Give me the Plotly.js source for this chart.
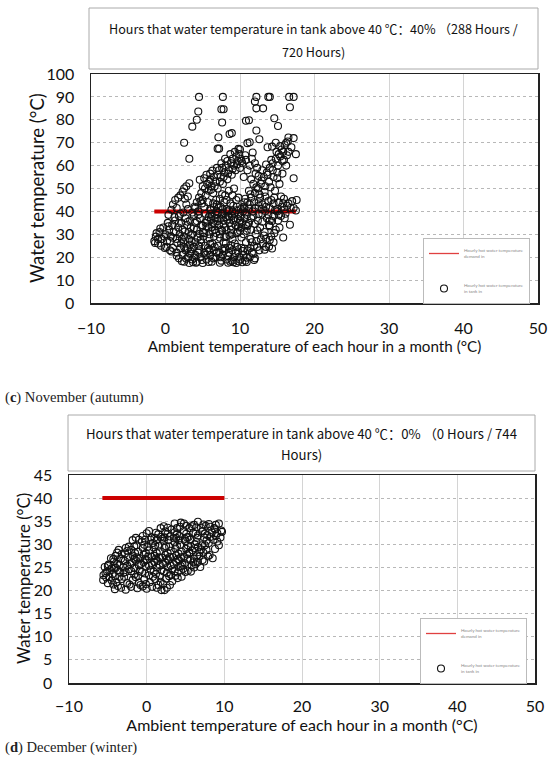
<!DOCTYPE html>
<html>
<head>
<meta charset="utf-8">
<script src="https://cdn.plot.ly/plotly-3.0.1.min.js"></script>
<style>html,body{margin:0;padding:0;background:#fff;}#chart{width:550px;height:760px;}</style>
</head>
<body>
<div id="chart"></div>
<script>
// ---------- November (autumn) ----------
const novDemandX = [-1.5, 17.5];
const novDemandY = [40, 40];
const novTankX = [
4.5,7.7,12.2,13.8,14.0,16.6,17.2,12.0,12.2,13.1,16.7,7.5,7.8,4.4,4.2,3.6,7.6,10.8,11.2,14.6,15.1,12.2,7.1,8.6,8.9,12.6,16.5,17.2,2.5,11.0,11.3,7.0,7.2,9.8,13.7,14.3,16.2,16.4,3.2,17.5,11.7,15.4,15.8,17.2,17.6,17.0,17.5,16.7,15.8,13.9,13.3,
3.2,2.5,2.3,2.0,4.6,1.3,0.8,0.4,2.8,1.7,2.6,3.0,1.0,
4.2,4.5,4.8,5.0,5.3,5.6,5.8,6.0,6.2,6.5,6.7,7.0,7.2,7.4,7.6,7.9,8.1,8.3,8.5,8.8,9.0,9.2,9.5,9.7,9.9,10.1,10.3,6.4,7.0,7.7,8.3,8.9,9.4,10.0,5.5,6.0,6.8,8.0,9.2,10.5,11.0,11.3,10.8,11.6,12.0,12.3,
10.5,11.0,11.5,12.0,12.4,12.8,13.2,13.6,14.0,14.4,14.8,15.2,15.6,16.0,13.0,13.5,14.2,14.9,12.5,11.8,11.2,13.9,14.5,15.0,12.7,13.3,14.7,15.3,11.5,12.1,15.7,16.3,
12.5,13.0,13.8,14.5,15.2,15.8,16.3,14.0,15.0,16.0,13.5,12.0,11.3,14.6,15.5,16.8,
-1.5,-1.3,-1.0,-0.8,-0.5,-0.3,0.0,0.2,0.3,0.5,0.7,0.9,1.1,1.3,1.5,1.7,1.9,2.1,2.3,2.5,2.7,2.9,3.1,-1.2,0.1,0.6,1.0,-0.6,1.8,2.4,3.3,
3.4,3.6,3.8,4.0,4.2,4.4,4.6,4.8,5.0,5.2,5.4,5.6,5.8,6.0,3.5,4.3,5.1,5.9,3.9,4.9,5.7,
6.2,6.4,6.6,6.8,7.0,7.2,7.4,7.6,7.8,8.0,8.2,8.4,8.6,8.8,9.0,9.2,9.4,9.6,9.8,10.0,10.2,10.4,10.6,10.8,6.5,7.3,8.1,8.9,9.7,10.5,6.9,7.9,8.7,9.5,6.1,7.1,8.3,9.1,10.1,7.5,8.5,9.9,6.7,10.9,
11.2,11.5,11.8,12.1,12.4,12.7,13.0,13.3,13.6,13.9,14.2,14.5,14.8,15.1,11.4,12.2,13.1,14.0,11.7,12.9,
1.5,1.8,2.0,2.3,2.5,2.7,3.0,3.2,3.4,3.6,3.8,4.0,4.2,4.5,4.7,5.0,5.2,5.5,5.7,6.0,6.2,6.5,6.7,7.0,7.2,7.5,7.7,8.0,8.2,8.5,8.7,9.0,9.2,9.5,9.7,10.0,10.2,10.5,10.7,11.0,11.3,11.6,12.0,12.3,2.1,3.3,4.8,6.3,7.8,9.3,10.8,5.3,8.8,3.7,9.8,10.3,8.4,11.8,
14.0,14.5,15.0,15.5,16.0,13.5,12.6,11.9,
5.2,5.5,5.8,6.1,6.3,6.6,6.9,7.1,7.3,7.6,7.8,8.1,8.3,8.6,8.8,9.1,9.3,9.6,9.8,10.1,10.3,10.6,10.9,5.4,6.0,6.5,7.0,7.7,8.2,8.9,9.5,10.0,10.7,6.2,7.4,8.6,9.7,5.9,6.8,7.9,9.0,10.2,11.0,11.2,6.4,7.3,8.2,9.0,9.8,10.6,8.5,7.6,
1.0,1.4,1.8,2.2,2.6,3.0,3.4,3.8,4.2,4.6,5.0,1.6,2.4,3.2,4.0,4.7,0.6,-0.2,-1.0,-1.4,-0.7,0.4,1.2,2.0,3.6,4.4,3.0,2.8,1.5,
-0.1,0.8,1.5,2.2,2.8,3.3,3.9,4.4,4.9,5.4,5.9,6.4,6.9,7.4,7.9,8.4,8.9,9.4,9.9,10.4,10.9,11.4,11.9,2.5,3.5,4.5,5.6,6.6,7.6,8.6,9.6,10.6,4.1,5.8,7.3,9.1,10.9,6.0,8.1,3.0,
11.5,12.0,12.5,13.0,13.4,13.8,14.3,14.7,15.2,15.6,16.1,16.5,17.2,12.3,13.2,14.0,14.6,15.3,12.8,11.6,13.5,14.3,12.5,15.9,14.2,13.4,
4.0,4.7,5.4,6.1,6.6,7.3,7.8,8.4,9.0,9.6,10.2,10.7,5.0,5.9,6.9,7.5,8.0,8.7,9.3,10.0,5.2,6.3,
10.7,11.4,12.2,12.9,13.7,14.4,15.1,15.9,16.5,11.9,12.6,13.4,14.1,15.0,15.7,16.2,16.9,14.8,15.4
];
const novTankY = [
90,90,90,90,90,90,90,88,85,85,85.5,84.6,84.6,83.6,80,77,78.8,79.6,79.8,80.7,77.3,75.3,72.4,73.8,74.2,71.5,72.3,72,70,69.8,70.2,67.4,67.4,67.3,68,68.3,70,70.5,63,65,65.7,64,66,54.5,45,44.5,40.4,34.2,28.6,24.7,23.3,
52.3,50,48.7,47,53.8,45,40.7,38.5,51,46,45.5,46.5,43,
44,46,48,45,50,52,49,54,51,55,53,56,58,55,59,57,60,62,58,61,63,60,64,62,65,63,61,48,50,52,54,56,58,59,56,56.5,45,47,50,55,58,60,62.5,63,61,59,
42,44,46,48,50,52,55,57,59,61,63,65,67,69,58,60.5,62.5,66,55.5,52,49,53,55,57,46,48.5,49,52,54,56.5,62,64.5,
44,43,44.5,43.5,44,43.5,42.5,41.5,41,40.8,42,41.5,43,46,46.5,41.5,
27,29,26,31,28,33,30,27,35,32,29,34,31,36,28,33,30,35,32,29,37,34,31,30.5,24.5,23,24,25,38,39.5,36,
33,30,38,35,32,40,37,34,31,42,39,36,33,41,27,28.5,29,30,42,43.5,44,
38,35,32,40,37,34,42,39,36,33,41,38,35,32,40,37,34,42,39,36,33,40,37,34,29,30,29,30,31,30,43,44,43.5,45,36.5,39.5,36.5,42.5,41,32,40.5,35,37,38.5,
35,32,38,30,36,33,39,31,37,34,29,38,32,36,28,27,26,33.5,40,41,
22,19.5,24,21,18,23,20,17.5,22.5,19,24.5,21,18,23,20,17.5,22,19,24,21,18,23,20,25,22,18.5,21,24,19,22,18,23,20,17.5,22.5,19,24,21,18.5,23,20,22,19.5,24.5,26,25.5,26.5,26,26.5,26,26.5,25,25.2,17.8,18.2,17.8,17.6,21.5,
36,26.5,40,38,37,28,23,25,
30.5,33.5,37.5,40.5,31.5,34.5,38.5,41.5,28.5,31.5,34.5,37.5,40,29.5,33.5,36,39,30.5,33,38,35,41.5,31.5,35,38.8,41.8,35.8,40.8,31.8,38,40.5,31.5,39.5,33.2,36.8,37.8,36.8,28.2,30.6,28.8,27.8,28.6,33.6,41.2,43.5,45.5,45,47,46,44,49,47.5,
28.5,31.2,34.8,28.0,31.2,35.5,29.5,32.5,35.8,30.2,33.8,26.2,26.8,27.8,26.5,27.5,27.0,29.0,28.0,26.2,32.5,33.5,37.5,39,39.5,38.5,41,43,41.5,
24,22.5,20.6,18.2,19.3,21.5,19.8,22,18.8,21,23.2,19.5,22,20,22.8,20.5,18.5,21.8,20.2,22.7,19.8,24,18.8,24.5,23.5,25,22.5,24.5,23.5,24,24.5,23.8,17.6,17.9,17.6,17.8,17.9,25.8,26,23.8,
37,34.5,38.8,35.5,40.2,38.5,35.8,40.5,38.5,42,39,43.5,41.5,31.8,29.5,27.5,30.5,33,27.8,26.5,24.5,23.8,42.5,45.5,45,46.5,
41.5,44.5,47,49.5,51,53,55,56.5,58.5,60.5,62,64.5,51,53,59,61,63,65,66,67,54.5,57.8,
45.5,47.5,50.5,53.5,56,58,60,62.5,66,44,47.5,51,50.5,54.5,56.5,60,68,70,68.5
];

// ---------- December (winter) ----------
const decDemandX = [-5.7, 10];
const decDemandY = [40, 40];
const decTankX = [
-4.1,-3.3,-2.7,-2.0,-1.2,-0.5,0.0,0.7,1.3,1.9,2.3,3.0,-3.7,2.6,
-5.6,-5.0,-4.5,-3.9,-3.2,-2.5,-1.8,-1.0,-0.3,0.4,1.1,1.8,2.5,3.3,4.0,4.5,-4.8,-2.9,
-5.56,-5.1,-4.4,-3.7,-3.0,-2.3,-1.6,-0.9,-0.2,0.5,1.2,1.9,2.6,3.3,4.0,4.7,5.3,5.7,-5.4,6.1,
-4.9,-4.2,-3.5,-2.8,-2.1,-1.4,-0.7,0.0,0.7,1.4,2.1,2.8,3.5,4.2,4.9,5.6,6.6,6.9,6.3,-4.6,
-4.0,-3.6,-3.2,-2.5,-1.8,-1.1,-0.4,0.3,1.0,1.7,2.4,3.1,3.8,4.5,5.2,5.9,7.7,8.1,8.5,7.3,6.5,
-2.3,-1.8,-1.3,-0.6,0.1,0.8,1.5,2.2,2.9,3.6,4.3,5.0,5.7,6.4,7.1,7.7,9.1,9.3,8.6,-1.0,
0.0,0.6,1.2,1.8,2.4,3.0,3.6,4.2,4.8,5.4,6.0,6.6,7.2,7.8,9.1,9.7,-0.5,1.8,
2.7,3.6,4.3,4.8,5.5,6.1,6.6,7.0,7.6,8.2,9.3,3.2,5.8,
-3.0,-2.4,-1.6,-0.9,-0.1,0.6,1.3,2.0,2.7,3.4,4.1,4.8,-2.7,-1.9,-1.1,-0.4,0.3,1.0,1.7,2.4,3.1,3.8,-2.0,-1.3,-0.5,0.2,0.9,1.6,2.3,3.0,3.7,4.4,5.1,0.5,1.3,2.0,2.8,3.5,4.1,4.9,5.6,6.2,5.5,6.2,-3.5,-4.0,-4.5,-3.3,-5.2,-0.8,
-4.3,-2.2,-0.1,2.1,1.5,
-4.1,-1.4,0.8,2.9,3.7,-5.3,
-4.7,-3.4,-2.0,-0.6,0.9,2.2,3.6,5.0,4.4,5.8,
-5.0,-3.8,-2.5,-1.0,0.3,1.7,3.1,4.6,6.0,-4.2,
-4.3,-3.0,-1.6,-0.2,1.2,2.6,4.0,5.3,6.1,7.2,6.8,
-3.8,-2.8,-1.5,-0.1,1.3,2.7,4.1,5.5,6.8,7.0,
-2.7,-1.6,-0.3,1.1,2.5,3.9,5.3,6.6,7.5,8.0,
-1.4,-0.2,1.0,2.3,3.8,5.2,6.5,7.4,8.2,8.9,
0.3,1.5,2.7,3.9,5.1,6.3,7.5,8.4,8.8,
2.2,3.9,5.1,6.4,7.3,8.0,8.7,4.4,
7.4,7.9,8.8,9.5,9.6,8.9
];
const decTankY = [
20.3,20.6,20.2,20.8,20.5,20.9,20.4,20.8,20.6,20.1,20.1,21.2,21.0,20.6,
22.3,21.6,22.2,21.8,22.5,21.6,22.3,21.7,22.4,21.8,22.5,21.9,22.6,22.0,22.7,23.0,22.9,23.0,
23.3,24.1,23.6,24.4,23.8,24.6,23.5,24.3,23.7,24.5,23.6,24.4,23.8,24.6,23.9,24.7,24.3,24.1,25.1,25.0,
25.6,26.3,25.5,26.4,25.7,26.5,25.8,26.6,25.6,26.4,25.8,26.6,25.7,26.5,25.9,26.6,26.2,25.1,25.7,27.0,
27.5,28.8,27.9,28.6,27.6,28.4,27.8,28.7,27.5,28.5,27.7,28.6,27.6,28.4,27.8,28.7,28.8,27.7,27.0,28.2,27.6,
29.5,30.9,29.8,30.6,29.4,30.3,29.7,30.8,29.5,30.4,29.9,30.7,29.6,30.5,29.8,30.8,30.6,29.8,31.0,31.0,
32.4,31.5,32.5,31.6,32.8,31.7,32.6,31.8,32.9,31.6,32.5,31.9,32.8,32.0,32.4,32.7,31.8,33.5,
33.6,34.5,33.8,34.5,33.5,34.2,34.9,33.6,34.0,33.8,34.5,33.2,33.9,
25.0,27.2,24.9,27.0,25.2,27.3,25.0,27.1,25.1,27.2,25.1,27.3,24.0,26.0,23.2,26.1,23.3,26.2,23.1,26.0,23.4,26.2,28.8,27.2,29.2,27.4,29.3,27.2,29.2,27.3,29.1,27.2,29.0,31.0,30.9,31.2,31.0,31.3,30.9,31.2,31.0,30.0,28.2,29.2,23.0,24.9,24.8,26.9,22.8,21.2,
21.3,21.3,21.4,21.4,21.2,
23.1,22.9,23.0,23.1,23.2,23.8,
24.4,24.0,24.2,24.0,24.1,24.1,24.2,24.0,25.3,25.4,
25.3,25.8,25.4,25.5,25.4,25.5,25.4,25.6,26.1,25.0,
26.8,26.6,26.9,26.8,26.9,26.9,26.8,26.9,26.9,26.6,27.4,
28.2,28.0,28.1,28.1,28.1,28.1,28.0,28.0,28.3,28.9,
29.2,29.6,29.9,29.8,29.6,29.7,29.8,29.4,29.8,30.3,
31.4,31.0,31.4,31.5,31.4,31.5,31.4,31.5,31.6,31.8,
32.9,32.2,32.3,32.2,32.3,32.3,32.3,32.6,33.2,
33.9,33.5,34.0,33.7,34.3,34.4,33.5,34.7,
26.3,27.4,29.0,31.5,33.0,34.2
];

const xTicks = [-10, 0, 10, 20, 30, 40, 50];
const novYTicks = [0, 10, 20, 30, 40, 50, 60, 70, 80, 90, 100];
const decYTicks = [0, 5, 10, 15, 20, 25, 30, 35, 40, 45];

const legendDemand = 'Hourly hot water temperature<br>demand in';
const legendTank = 'Hourly hot water temperature<br>in tank in';
const xTitle = 'Ambient temperature of each hour in a month (°C)';
const yTitle = 'Water temperature (°C)';
const novTitle1 = 'Hours that water temperature in tank above 40 ℃：40% （288 Hours /';
const novTitle2 = '720 Hours)';
const decTitle1 = 'Hours that water temperature in tank above 40 ℃：0% （0 Hours / 744';
const decTitle2 = 'Hours)';
const capNov = '(<b>c</b>) November (autumn)';
const capDec = '(<b>d</b>) December (winter)';

// ---------- layout helpers ----------
const W = 550, H = 760;
const px = v => v / W;
const py = v => 1 - v / H;
const FONT = 'Lato, "Noto Sans", sans-serif';
const TFONT = '"Noto Sans CJK SC", "Noto Sans", sans-serif';
const SERIF = '"Liberation Serif", "DejaVu Serif", serif';

const lineStyle = {color: '#cc0000', width: 4};
const legLine = {color: '#e04040', width: 1.3};
const markStyle = {symbol: 'circle-open', size: 7, color: '#111', line: {width: 1.1, color: '#111'}};

const traces = [
  // thin copy of the demand line (hidden under the thick one) provides the thin legend sample
  {x: novDemandX, y: novDemandY, type: 'scatter', mode: 'lines', line: legLine, name: legendDemand, xaxis: 'x', yaxis: 'y', legend: 'legend', legendgroup: 'a'},
  {x: novDemandX, y: novDemandY, type: 'scatter', mode: 'lines', line: lineStyle, name: legendDemand, xaxis: 'x', yaxis: 'y', showlegend: false, legendgroup: 'a'},
  {x: novTankX, y: novTankY, type: 'scatter', mode: 'markers', marker: markStyle, name: legendTank, xaxis: 'x', yaxis: 'y', legend: 'legend', legendgroup: 'b'},
  {x: decDemandX, y: decDemandY, type: 'scatter', mode: 'lines', line: legLine, name: legendDemand, xaxis: 'x2', yaxis: 'y2', legend: 'legend2', legendgroup: 'c'},
  {x: decDemandX, y: decDemandY, type: 'scatter', mode: 'lines', line: lineStyle, name: legendDemand, xaxis: 'x2', yaxis: 'y2', showlegend: false, legendgroup: 'c'},
  {x: decTankX, y: decTankY, type: 'scatter', mode: 'markers', marker: markStyle, name: legendTank, xaxis: 'x2', yaxis: 'y2', legend: 'legend2', legendgroup: 'd'}
];

function xAxis(domain, anchor, standoff, labStand, tsize) {
  return {
    domain: domain, anchor: anchor, range: [-10, 50], tickvals: xTicks,
    showgrid: true, gridcolor: '#d4d4d4', gridwidth: 1, zeroline: false,
    showline: true, mirror: true, linecolor: '#222', linewidth: 1.5,
    ticks: '', ticklabelstandoff: labStand,
    tickfont: {family: FONT, size: 16, color: '#111'},
    title: {text: xTitle, font: {family: FONT, size: tsize, color: '#111'}, standoff: standoff}
  };
}
function yAxis(domain, anchor, range, vals) {
  return {
    domain: domain, anchor: anchor, range: range, tickvals: vals,
    showgrid: true, gridcolor: '#b8b8b8', gridwidth: 1, griddash: 'dot', zeroline: false,
    showline: true, mirror: true, linecolor: '#222', linewidth: 1.5,
    ticks: '', ticklabelstandoff: 12,
    tickfont: {family: FONT, size: 16, color: '#111'}
  };
}
function legendAt(x, y) {
  return {
    x: px(x), y: py(y), xanchor: 'left', yanchor: 'top',
    bgcolor: '#fff', bordercolor: '#bbb', borderwidth: 1,
    font: {family: FONT, size: 4.5, color: '#888'},
    tracegroupgap: 16, itemwidth: 30, entrywidth: 58
  };
}
function ann(x, y, text, font, extra) {
  return Object.assign({xref: 'paper', yref: 'paper', x: px(x), y: py(y), text: text, showarrow: false, xanchor: 'center', yanchor: 'middle', font: font}, extra || {});
}

const layout = {
  width: W, height: H,
  margin: {l: 0, r: 0, t: 0, b: 0},
  paper_bgcolor: '#fff', plot_bgcolor: '#fff',
  showlegend: true,
  xaxis: xAxis([px(91), px(538)], 'y', 4, 10, 15.2),
  yaxis: yAxis([py(303), py(74)], 'x', [0, 100], novYTicks),
  xaxis2: xAxis([px(69), px(535)], 'y2', 1, 8, 16),
  yaxis2: yAxis([py(683), py(475)], 'x2', [0, 45], decYTicks),
  legend: legendAt(423, 238),
  legend2: legendAt(420, 618),
  shapes: [
    {type: 'rect', xref: 'paper', yref: 'paper', x0: px(89), x1: px(538), y0: py(69), y1: py(8), line: {color: '#aaa', width: 1}},
    {type: 'rect', xref: 'paper', yref: 'paper', x0: px(68), x1: px(535), y0: py(471), y1: py(415), line: {color: '#aaa', width: 1}}
  ],
  annotations: [
    ann(313.5, 28, novTitle1, {family: TFONT, size: 12.6, color: '#111'}),
    ann(313.5, 51, novTitle2, {family: TFONT, size: 12.6, color: '#111'}),
    ann(301.5, 433, decTitle1, {family: TFONT, size: 13.2, color: '#111'}),
    ann(301.5, 454, decTitle2, {family: TFONT, size: 13.2, color: '#111'}),
    ann(37, 188, yTitle, {family: FONT, size: 18.5, color: '#111'}, {textangle: -90}),
    ann(24, 579, yTitle, {family: FONT, size: 16.7, color: '#111'}, {textangle: -90}),
    ann(3, 397, capNov, {family: SERIF, size: 14.6, color: '#222'}, {xanchor: 'left'}),
    ann(3, 747, capDec, {family: SERIF, size: 14.6, color: '#222'}, {xanchor: 'left'})
  ]
};

Plotly.newPlot('chart', traces, layout, {staticPlot: true, displayModeBar: false});
</script>
</body>
</html>
